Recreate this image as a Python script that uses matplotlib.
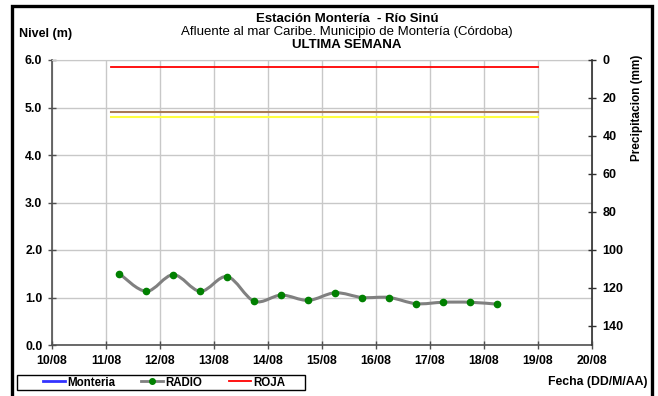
import numpy as np
import matplotlib
matplotlib.use("Agg")
import matplotlib.pyplot as plt
from matplotlib.path import Path
from matplotlib.patches import PathPatch, Rectangle
from matplotlib.lines import Line2D

plt.rcParams['font.family'] = ['Liberation Sans', 'DejaVu Sans']

# datos (dia de agosto, nivel en m)
dias = [11.25, 11.75, 12.25, 12.75, 13.25, 13.75, 14.25, 14.75,
        15.25, 15.75, 16.25, 16.75, 17.25, 17.75, 18.25]
nivel_radio = [1.50, 1.13, 1.48, 1.13, 1.44, 0.92, 1.05, 0.94,
               1.10, 1.00, 1.00, 0.87, 0.90, 0.90, 0.86]

# niveles de alerta
alerta_inicio = 11.1
alerta_fin = 19.0
nivel_roja = 5.86
nivel_naranja = 4.90
nivel_amarilla = 4.80

fechas = ['10/08', '11/08', '12/08', '13/08', '14/08', '15/08',
          '16/08', '17/08', '18/08', '19/08', '20/08']
ticks_fecha = list(range(10, 21))
ticks_nivel = [0, 1, 2, 3, 4, 5, 6]
ticks_precip = [0, 20, 40, 60, 80, 100, 120, 140]


def curva_suave(x, y):
    # Catmull-Rom -> Bezier para dibujar la linea suavizada
    x = np.asarray(x, float)
    y = np.asarray(y, float)
    verts = [(x[0], y[0])]
    codes = [Path.MOVETO]
    n = len(x)
    for i in range(n - 1):
        x0, y0 = (x[i - 1], y[i - 1]) if i > 0 else (x[i], y[i])
        x3, y3 = (x[i + 2], y[i + 2]) if i + 2 < n else (x[i + 1], y[i + 1])
        c1 = (x[i] + (x[i + 1] - x0) / 6, y[i] + (y[i + 1] - y0) / 6)
        c2 = (x[i + 1] - (x3 - x[i]) / 6, y[i + 1] - (y3 - y[i]) / 6)
        verts += [c1, c2, (x[i + 1], y[i + 1])]
        codes += [Path.CURVE4] * 3
    return Path(verts, codes)


fig = plt.figure(figsize=(6.58, 3.96), dpi=100)
ax = fig.add_axes([52 / 658, 1 - 345 / 396, (591.5 - 52) / 658, (345 - 60) / 396])

ax.set_xlim(10, 20)
ax.set_ylim(0, 6)
ax.set_xticks(ticks_fecha)
ax.set_xticklabels(fechas)
ax.set_yticks(ticks_nivel)
ax.set_yticklabels(['%.1f' % v for v in ticks_nivel])
ax.grid(True, color='#c8c8c8', linewidth=1)
ax.set_axisbelow(True)

gris = '#808080'
ax.plot([alerta_inicio, alerta_fin], [nivel_roja] * 2, color='#ff0000', lw=1.3)
ax.plot([alerta_inicio, alerta_fin], [nivel_naranja] * 2, color='#a87a55', lw=1.5)
ax.plot([alerta_inicio, alerta_fin], [nivel_amarilla] * 2, color='#ffff40', lw=1.5)

ax.add_patch(PathPatch(curva_suave(dias, nivel_radio), facecolor='none',
                       edgecolor=gris, lw=2.2, zorder=3))
ax.plot(dias, nivel_radio, linestyle='none', marker='o', ms=4.5,
        color='#008000', zorder=4)

for s in ['top', 'right']:
    ax.spines[s].set_color('#c8c8c8')
for s in ['left', 'bottom']:
    ax.spines[s].set_color('#505050')
    ax.spines[s].set_linewidth(1.2)
ax.tick_params(axis='both', direction='inout', length=6, width=1,
               color='#505050', labelsize=8.8, pad=4)
for t in ax.get_xticklabels() + ax.get_yticklabels():
    t.set_fontweight('bold')

# eje derecho: precipitacion
ax2 = ax.twinx()
ax2.set_ylim(150, 0)
ax2.set_yticks(ticks_precip)
ax2.tick_params(axis='y', direction='inout', length=6, width=1,
                color='#303030', labelsize=9, pad=5)
for t in ax2.get_yticklabels():
    t.set_fontweight('bold')
ax2.spines['right'].set_color('#303030')
ax2.spines['right'].set_linewidth(1.2)
for s in ['top', 'left', 'bottom']:
    ax2.spines[s].set_visible(False)

# textos
fig.text(347 / 658, 1 - 19.5 / 396, 'Estación Montería  - Río Sinú', ha='center',
         va='center', fontsize=9.5, fontweight='bold')
fig.text(347 / 658, 1 - 32.5 / 396, 'Afluente al mar Caribe. Municipio de Montería (Córdoba)',
         ha='center', va='center', fontsize=9.5)
fig.text(347 / 658, 1 - 45.5 / 396, 'ULTIMA SEMANA', ha='center', va='center',
         fontsize=9.5, fontweight='bold')
fig.text(19 / 658, 1 - 34.5 / 396, 'Nivel (m)', ha='left', va='center',
         fontsize=9, fontweight='bold')
fig.text(637 / 658, 1 - 108 / 396, 'Precipitacion (mm)', ha='center', va='center',
         rotation=90, fontsize=8.5, fontweight='bold')
fig.text(648 / 658, 1 - 382 / 396, 'Fecha (DD/M/AA)', ha='right', va='center',
         fontsize=8.8, fontweight='bold')

# marco exterior
fig.add_artist(Rectangle((12 / 658, -0.05), (651.5 - 12) / 658, 1.05 - 5.8 / 396,
                         transform=fig.transFigure, fill=False,
                         edgecolor='black', lw=2.4))

# leyenda
fig.add_artist(Rectangle((17 / 658, 1 - 390 / 396), (305 - 17) / 658, 15 / 396,
                         transform=fig.transFigure, fill=False,
                         edgecolor='black', lw=1))
handles = [Line2D([], [], color='#3333ff', lw=2),
           Line2D([], [], color=gris, lw=2, marker='o', ms=4,
                  markerfacecolor='#008000', markeredgecolor='#008000'),
           Line2D([], [], color='#ff0000', lw=1.3)]
leg = fig.legend(handles, ['Monteria', 'RADIO', 'ROJA'], ncol=3,
                 loc='center left', bbox_to_anchor=(37 / 658, 1 - 382.5 / 396),
                 frameon=False, handlelength=1.9, handletextpad=0.2,
                 columnspacing=2.3, borderpad=0,
                 prop={'size': 8.3, 'weight': 'bold'})

fig.savefig('out.png', dpi=100)
